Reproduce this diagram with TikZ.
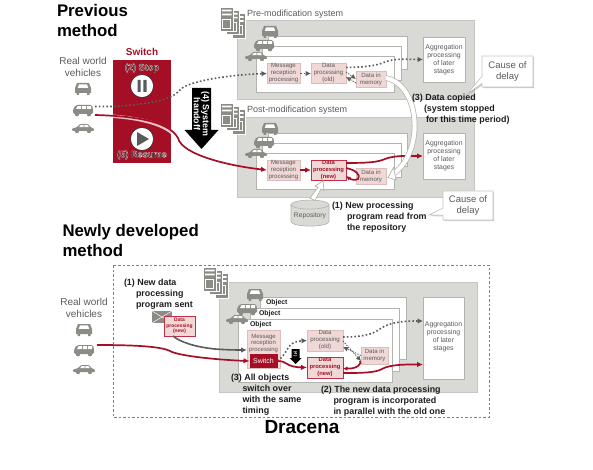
\documentclass[tikz,border=0pt]{standalone}
\usepackage{fontspec}
\setmainfont{Liberation Sans}
\usetikzlibrary{arrows.meta,shapes.geometric,shapes.callouts,shadows}
\definecolor{panel}{HTML}{D9D9D5}
\definecolor{panelb}{HTML}{C6C6C2}
\definecolor{frameb}{HTML}{B2B2AE}
\definecolor{icon}{HTML}{8C8C87}
\definecolor{txt}{HTML}{5A5A5A}
\definecolor{crim}{HTML}{A50F26}
\definecolor{dashc}{HTML}{CF5A6E}
\definecolor{newb}{HTML}{BE3048}
\definecolor{pinkb}{HTML}{EFD8D6}
\definecolor{pinkl}{HTML}{DDBDBB}
\definecolor{ink}{HTML}{1E1E1E}
\newcommand{\fs}[2]{\fontsize{#1}{#2}\selectfont}
\newcommand{\halo}[1]{\special{pdf:code q 2 Tr 0.2 w 1 1 1 RG 0.25 0.15 0.15 rg}#1\special{pdf:code Q}}
\tikzset{
  every node/.style={inner sep=0pt,outer sep=0pt},
  title/.style={font=\bfseries\fs{16.8}{20},text=black,anchor=north west,align=left},
  lbl/.style={font=\fs{10}{12},text=txt,align=center},
  sys/.style={font=\fs{9}{11},text=txt,anchor=west},
  note/.style={font=\bfseries\fs{8.9}{10.9},text=ink,anchor=north west,align=left},
  graybox/.style={fill=panel,draw=panelb,line width=.7pt},
  framebox/.style={fill=white,draw=frameb,line width=.7pt},
  agg/.style={draw=frameb,fill=white,line width=.8pt,font=\fs{6.9}{8},text=txt,align=center},
  pinkbox/.style={draw=pinkl,fill=pinkb,line width=.7pt,font=\fs{6.1}{7},text=txt,align=center},
  newbox/.style={draw=newb,fill=pinkb,line width=.9pt,font=\bfseries\fs{5.8}{7},text=crim,align=center},
  dotline/.style={draw=txt,line width=1.6pt,dash pattern=on 1.6pt off 2.2pt,-{Latex[length=5.5pt,width=5.5pt]}},
  thindot/.style={draw=txt,line width=.8pt,dash pattern=on 1.4pt off 1.2pt,-{Latex[length=5pt,width=5pt]}},
  redline/.style={draw=crim,line width=1.7pt,-{Latex[length=6pt,width=5.5pt]}},
  whitearrow/.style={draw=frameb,fill=white,line width=.7pt},
  callbox/.style={rectangle callout,draw=panelb,fill=white,line width=.7pt,font=\fs{9.5}{11.5},text=txt,align=center,
     drop shadow={shadow xshift=1.2pt,shadow yshift=-1.2pt,opacity=.4,fill=gray}},
  carfront/.pic={
    \fill[icon] (-8,-1) -- (-6,-6) -- (6,-6) -- (8,-1) -- (8,4) -- (6.5,4) -- (6.5,6) -- (4,6) -- (4,4) -- (-4,4) -- (-4,6) -- (-6.5,6) -- (-6.5,4) -- (-8,4) -- cycle;
    \fill[white] (-5.2,-1.2) -- (-4,-4.6) -- (4,-4.6) -- (5.2,-1.2) -- cycle;
  },
  van/.pic={
    \fill[icon,rounded corners=1.5pt] (-10,4) -- (-10,-1) -- (-7,-5) -- (9,-5) -- (10,-1) -- (10,4) -- cycle;
    \fill[icon] (-6,4.2) circle (2.2) (6,4.2) circle (2.2);
    \fill[white] (-7,-1) -- (-5.5,-3.8) -- (-2.2,-3.8) -- (-2.2,-1) -- cycle (-1.2,-3.8) rectangle (2.8,-1) (3.8,-3.8) rectangle (8.2,-1);
  },
  carside/.pic={
    \fill[icon,rounded corners=1pt] (-11,3) -- (-11,.5) -- (-6,-.8) -- (-3,-4) -- (5,-4) -- (8,-.5) -- (11,.5) -- (11,3) -- cycle;
    \fill[icon] (-6,3) circle (2.2) (6,3) circle (2.2);
    \fill[white] (-4,-.8) -- (-2.2,-3) -- (.5,-3) -- (.5,-.8) -- cycle (1.4,-3) -- (4.5,-3) -- (6,-.8) -- (1.4,-.8) -- cycle;
  },
  tower/.pic={
    \draw[fill=icon,line width=.6pt,draw=white] (0,0) rectangle (13.5,24.5);
    \fill[white] (2,2.7) rectangle (11.5,4.4) (2,6.6) rectangle (11.5,8.3);
    \draw[white,line width=.9pt] (2.5,12) rectangle (10,21);
  },
  servers/.pic={
    \pic at (12,6.5) {tower};
    \pic at (6,3.2) {tower};
    \pic at (0,0) {tower};
  },
}
\begin{document}
\begin{tikzpicture}[x=1pt,y=-1pt]
\useasboundingbox (0,0) rectangle (593,470);
% ---------- titles
\node[title] (t1) at (57,4) {Previous\\method};
\node[title] (t2) at (62.5,224) {Newly developed\\method};
\node[lbl] (rw1) at (83,67) {Real world\\vehicles};
\node[font=\bfseries\fs{10}{12},text=crim] (sw) at (142,52) {Switch};
% ---------- switch panel
\node[fill=crim,minimum width=58pt,minimum height=103pt] (swp) at (142,111.5) {};
\node[font=\bfseries\fs{9.2}{11}] (st) at (142,68) {\halo{(2) Stop}};
\node[font=\bfseries\fs{9.2}{11}] (rs) at (142,155) {\halo{(5) Resume}};
\node[circle,fill=white,draw=ink,line width=.5pt,minimum size=23pt] (pa) at (142,86) {};
\fill[txt] (137.5,80) rectangle (140.7,92) (143.3,80) rectangle (146.5,92);
\node[circle,fill=white,draw=ink,line width=.5pt,minimum size=23pt] (pl) at (142,139) {};
\fill[txt] (137,132) -- (149,139) -- (137,146) -- cycle;
% vehicles top
\pic at (83,89) {carfront};
\pic at (83,110) {van};
\pic at (83,128) {carside};
% ---------- black arrow
\fill[black] (192,88) -- (211,88) -- (211,130) -- (218.5,130) -- (201.5,149) -- (184.5,130) -- (192,130) -- cycle;
\node[rotate=-90,font=\bfseries\fs{8.9}{9},text=white,align=center] (ho) at (201.5,114) {(4) System\\handoff};
% ---------- pre-modification system
\node[graybox,minimum width=237pt,minimum height=79pt] (pre) at (355.5,59.5) {};
\node[sys] (pret) at (247,14.5) {Pre-modification system};
\pic at (220,7) {servers};
\draw[framebox] (268,36) rectangle (407,69);
\draw[framebox] (262,46) rectangle (401,80);
\draw[framebox] (256,56) rectangle (394,92);
\pic at (270,32) {carfront};
\pic at (264,45) {van};
\pic at (256,56) {carside};
\node[pinkbox,minimum width=33pt,minimum height=20pt] (m1) at (283.5,73.5) {Message\\reception\\processing};
\node[pinkbox,minimum width=35pt,minimum height=20pt] (d1) at (328.5,73.5) {Data\\processing\\(old)};
\node[pinkbox,minimum width=30pt,minimum height=16pt] (h1) at (371,79) {Data in\\memory};
\node[agg,minimum width=42pt,minimum height=45pt] (a1) at (444,59.5) {Aggregation\\processing\\of later\\stages};
% ---------- post-modification system
\node[graybox,minimum width=237pt,minimum height=80pt] (post) at (355.5,157) {};
\node[sys] (postt) at (247,110.5) {Post-modification system};
\pic at (220,103) {servers};
\draw[framebox] (268,133) rectangle (407,166);
\draw[framebox] (262,143) rectangle (401,177);
\draw[framebox] (256,153) rectangle (394,189);
\pic at (270,129) {carfront};
\pic at (264,142) {van};
\pic at (256,153) {carside};
\node[pinkbox,minimum width=33pt,minimum height=20pt] (m2) at (283.5,170) {Message\\reception\\processing};
\node[newbox,minimum width=35pt,minimum height=20pt] (d2) at (328.5,170) {Data\\processing\\(new)};
\node[pinkbox,minimum width=30pt,minimum height=16pt] (h2) at (371,176) {Data in\\memory};
\node[agg,minimum width=42pt,minimum height=46pt] (a2) at (444,156) {Aggregation\\processing\\of later\\stages};
% ---------- top connectors
\begin{scope}
\clip (swp.north west) rectangle (swp.south east);
\draw[white,opacity=.75,line width=3.4pt] (95,115.5) .. controls (130,116) and (165,122) .. (176,137);
\end{scope}
\coordinate (s1) at (95,106.5);
\coordinate (s2) at (95,115);
\draw[dotline] (s1) -- (113,106.5) .. controls (150,104) and (172,100) .. (180,90) .. controls (186,82) and (225,75) .. (m1.west);
\draw[redline] (s2) .. controls (130,116) and (168,120) .. (178,138) .. controls (182,155) and (230,166) .. (m2.west);
\draw[dotline] (m1.east) -- (d1.west);
\draw[dotline] ([yshift=6pt]d1.east) .. controls (370,67) and (378,65) .. (385,62) .. controls (395,58) and (410,59.5) .. (a1.west);
\draw[thindot] ([yshift=1.5pt]d1.east) -- (h1.west);
\draw[thindot] ([yshift=-4pt]h1.west) -- ([yshift=-3.5pt]d1.east);
\draw[redline] (m2.east) -- (d2.west);
\draw[redline] ([yshift=7pt]d2.east) .. controls (370,163) and (378,162) .. (385,159) .. controls (395,155) and (410,156) .. (a2.west);
\draw[redline,-{Latex[length=4.5pt,width=4.5pt]}] ([yshift=2pt]d2.east) .. controls (356,170) and (361,175) .. (358,179) .. controls (355,181) and (350,179) .. ([yshift=-6pt]d2.east);
% ---------- big white arrow
\draw[draw=frameb,double=white,double distance=4.2pt,line width=.7pt] ([yshift=1pt]h1.east) .. controls (420,85) and (425,150) .. (394,173.5);
\draw[whitearrow] (388,177.5) -- (393.5,167.5) -- (396,180) -- cycle;
% repository
\node[cylinder,shape border rotate=90,aspect=.28,draw=frameb,fill=panel,line width=.6pt,minimum width=38pt,minimum height=26pt,font=\fs{6.7}{8},text=txt] (repo) at (310,215.5) {Repository};
\draw[whitearrow,line join=miter] (310,198) -- (315,200.5) -- (321,189) -- (324,190.5) -- (323,181) -- (315,186) -- (318,187.5) -- cycle;
\node[note] (n1) at (332,202.5) {(1) New processing\\\hspace*{15pt}program read from\\\hspace*{15pt}the repository};
\node[note] (n3) at (412,94) {(3) Data copied\\\hspace*{12pt}(system stopped\\\hspace*{14pt}for this time period)};
\node[callbox,minimum width=51pt,minimum height=31pt,callout absolute pointer={(467,94)}] (c1) at (507.5,71.5) {Cause of\\delay};
\node[callbox,minimum width=50pt,minimum height=29pt,callout absolute pointer={(429,215)}] (c2) at (468,205.5) {Cause of\\delay};
% ---------- bottom
\draw[dashc,line width=.9pt,dash pattern=on 2.5pt off 2pt] (113,265) rectangle (489,417);
\node[lbl] (rw2) at (84,308) {Real world\\vehicles};
\pic at (84,330) {carfront};
\pic at (84,350) {van};
\pic at (84,369) {carside};
\node[graybox,minimum width=258pt,minimum height=110pt] (dr) at (348,337) {};
\pic at (203,267) {servers};
\draw[framebox] (260,297) rectangle (406,359);
\draw[framebox] (250,308) rectangle (399,371);
\draw[framebox] (238,319) rectangle (392,382);
\pic at (255,295) {carfront};
\pic at (247,309) {van};
\pic at (237,319) {carside};
\node[font=\bfseries\fs{6.9}{8},text=ink,anchor=west] (o1) at (266,302.5) {Object};
\node[font=\bfseries\fs{6.9}{8},text=ink,anchor=west] (o2) at (259,313.5) {Object};
\node[font=\bfseries\fs{6.9}{8},text=ink,anchor=west] (o3) at (250,325) {Object};
\node[pinkbox,minimum width=33pt,minimum height=38pt] (m3) at (263.5,349) {};
\node[font=\fs{6}{6.7},text=txt,align=center] (m3t) at (263.5,343.5) {Message\\reception\\processing};
\node[fill=crim,minimum width=28pt,minimum height=14pt,font=\fs{7}{9},text=white] (swb) at (263.5,361) {Switch};
\node[pinkbox,minimum width=36pt,minimum height=21pt] (d3) at (325,340.5) {Data\\processing\\(old)};
\node[newbox,minimum width=36pt,minimum height=21pt] (d4) at (325,367.5) {Data\\processing\\(new)};
\node[pinkbox,minimum width=27pt,minimum height=17pt] (h3) at (374.5,355.5) {Data in\\memory};
\node[agg,minimum width=41pt,minimum height=82pt] (a3) at (443.5,338) {};
\node[font=\fs{6.9}{8},text=txt,align=center] (a3t) at (443.5,337) {Aggregation\\processing\\of later\\stages};
% envelope + program
\node[fill=icon,minimum width=20pt,minimum height=12pt] (env) at (162,317) {};
\draw[white,line width=.5pt] (env.north west) -- (env.center) -- (env.north east) (env.south west) -- (env.center) -- (env.south east);
\node[draw=newb,fill=pinkb,line width=.6pt,minimum width=31pt,minimum height=20pt,font=\bfseries\fs{4.9}{5.7},text=crim,align=center] (prog) at (179.5,326) {Data\\processing\\(new)};
% connectors
\coordinate (s3) at (97,345);
\draw[draw=txt,line width=1.6pt,-{Latex[length=6pt,width=5.5pt]}] ([xshift=9pt]prog.south west) .. controls (180,342) and (195,347) .. (215,349) .. controls (228,350) and (238,350) .. ([yshift=-1pt]m3.west);
\draw[redline] (s3) .. controls (130,345) and (160,346) .. (170,351) .. controls (178,356) and (220,360) .. (swb.west);
\draw[dotline] (swb.east) .. controls (290,352) and (285,342) .. (d3.west);
\draw[redline] (swb.east) .. controls (288,361) and (285,367) .. (d4.west);
\draw[dotline] ([yshift=3.5pt]d3.east) .. controls (360,337) and (372,335) .. (380,329) .. controls (390,321) and (410,321) .. (a3.west |- 0,321);
\draw[redline] ([yshift=-5.5pt]d4.east) .. controls (360,373) and (375,373) .. (382,369) .. controls (390,364) and (410,364.5) .. (a3.west |- 0,364.5);
\draw[thindot] ([yshift=-.5pt]d3.east) -- ([yshift=-5.5pt]h3.west);
\draw[thindot] (h3.west) -- ([yshift=-6.5pt]d3.east);
\draw[redline,-{Latex[length=4.5pt,width=4.5pt]}] ([yshift=3pt,xshift=-1pt]h3.south west) .. controls (362,363) and (358,369) .. ([yshift=-1pt]d4.east);
% small black arrow
\fill[black] (291.5,349) -- (299.5,349) -- (299.5,358) -- (301.5,358) -- (295.5,364) -- (289.5,358) -- (291.5,358) -- cycle;
\node[rotate=-90,font=\bfseries\fs{4}{5},text=white] (h4) at (295.5,354) {(4)};
% notes
\node[note] (n4) at (124,279) {(1) New data\\\hspace*{12pt}processing\\\hspace*{12pt}program sent};
\node[note] (n5) at (231,374) {(3) All objects\\\hspace*{11.5pt}switch over\\\hspace*{11.5pt}with the same\\\hspace*{11.5pt}timing};
\node[note] (n6) at (321,386) {(2) The new data processing\\\hspace*{12.5pt}program is incorporated\\\hspace*{12.5pt}in parallel with the old one};
\node[font=\bfseries\fs{19}{22},text=black] (dra) at (302,427) {Dracena};
\end{tikzpicture}
\end{document}
